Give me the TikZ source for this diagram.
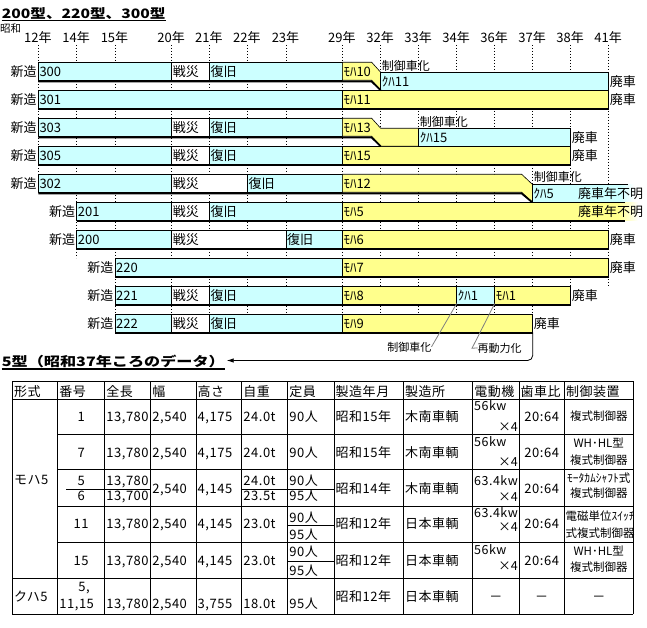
\documentclass[tikz,border=0pt]{standalone}
\usepackage{fontspec}
\setmainfont{Noto Sans CJK JP}
\newfontfamily\tblfont[LetterSpace=4]{Noto Sans CJK JP}
\newfontfamily\fwfont[RawFeature=+fwid]{Noto Sans CJK JP}
\usepackage{graphicx}
\usepackage{tikz}
\usetikzlibrary{positioning,arrows.meta,calc}
\definecolor{cbar}{RGB}{204,255,255}
\definecolor{ybar}{RGB}{255,255,140}
\definecolor{callgray}{RGB}{128,128,128}
\tikzset{
seg/.style={
draw,
line width=0.6pt
},
shadow/.style={
line width=1.8pt
},
tick/.style={
line width=0.9pt,
dash pattern=on 0.9pt off 2.1pt
},
lbl/.style={
anchor=base west,
inner sep=0pt,
font=\fontsize{13}{15}\selectfont
},
yr/.style={
anchor=base west,
inner sep=0pt,
font=\fontsize{13}{15}\selectfont
},
note/.style={
inner sep=0pt,
font=\fontsize{11}{13}\selectfont
},
ttl/.style={
anchor=base west,
inner sep=0pt,
font=\bfseries\fontsize{13}{15}\selectfont
},
cell/.style={
anchor=base west,
inner sep=0pt,
font=\tblfont\fontsize{13}{15}\selectfont
},
ccell/.style={
cell,
anchor=base
},
mcell/.style={
cell,
font=\tblfont\fontsize{12.5}{14}\selectfont
},
ctl/.style={
anchor=base,
inner sep=0pt,
font=\fontsize{11.5}{13}\selectfont
},
callout/.style={
draw=callgray,
line width=0.8pt
},
arrow/.style={
-{Latex[length=7pt,width=4.5pt]},
line width=0.8pt
},
grid/.style={
line width=0.8pt
}
}

\begin{document}
\begin{tikzpicture}[x=1pt,y=-1pt]
\useasboundingbox (0,0) rectangle (647,628);

% titles
\node[ttl](t1) at (1.7,18.3){\scalebox{1.2}[1]{200型、220型、300型}};
\draw[line width=1.4pt] ($(t1.base west)+(0,2)$) -- ($(t1.base east)+(0,2)$);
\node[anchor=base west,inner sep=0pt,font=\fontsize{10.5}{12}\selectfont](sw) at (0,33){昭和};

% years
\foreach \yr/\xx/\yend [count=\k] in {12/38.3/193,14/76.7/258,15/115/314,20/171.7/314,21/209.3/314,22/247.3/314,23/286/314,29/342.3/314,32/380.7/314,33/418.7/314,34/456.7/314,36/494.7/314,37/532.7/314,38/570.7/286,41/608.7/286}{
\draw[tick](\xx,45)--(\xx,\yend);
\node[yr](yr\k) at (\xx,43){\makebox[0pt][r]{\yr}年};
}

% bars
\foreach \rw/\xa/\xb/\col/\txt [count=\k] in {
0/38.3/171.7/cbar/300,0/171.7/209.3/white/戦災,0/209.3/342.3/cbar/復旧,
1/38.3/342.3/cbar/301,1/342.3/608.7/ybar/ﾓﾊ11,
2/38.3/171.7/cbar/303,2/171.7/209.3/white/戦災,2/209.3/342.3/cbar/復旧,
3/38.3/171.7/cbar/305,3/171.7/209.3/white/戦災,3/209.3/342.3/cbar/復旧,3/342.3/570.7/ybar/ﾓﾊ15,
4/38.3/171.7/cbar/302,4/171.7/247.3/white/戦災,4/247.3/342.3/cbar/復旧,
5/76.7/171.7/cbar/201,5/171.7/209.3/white/戦災,5/209.3/342.3/cbar/復旧,
6/76.7/171.7/cbar/200,6/171.7/286/white/戦災,6/286/342.3/cbar/復旧,6/342.3/608.7/ybar/ﾓﾊ6,
7/115/342.3/cbar/220,7/342.3/608.7/ybar/ﾓﾊ7,
8/115/171.7/cbar/221,8/171.7/209.3/white/戦災,8/209.3/342.3/cbar/復旧,8/342.3/456.7/ybar/ﾓﾊ8,8/456.7/494.7/cbar/ｸﾊ1,8/494.7/570.7/ybar/ﾓﾊ1,
9/115/171.7/cbar/222,9/171.7/209.3/white/戦災,9/209.3/342.3/cbar/復旧,9/342.3/532.7/ybar/ﾓﾊ9}{
\draw[seg,fill=\col](\xa,{62.3+28*\rw}) rectangle (\xb,{80.3+28*\rw});
\node[lbl](s\k) at (\xa+1,{76.1+28*\rw}){\txt};
}

% control car conversions
\draw[seg,fill=ybar](342.3,62.3)--(371.7,62.3)--(380.7,72.3)--(380.7,90.3)--(371.7,80.3)--(342.3,80.3)--cycle;
\node[lbl](m10) at (343.3,76.1){ﾓﾊ10};
\draw[seg,fill=cbar](380.7,72.3) rectangle (608.7,90.3);
\node[lbl](k11) at (381.7,86.1){ｸﾊ11};
\draw[seg,fill=ybar](342.3,118.3)--(371.7,118.3)--(380.7,128.3)--(418.7,128.3)--(418.7,146.3)--(380.7,146.3)--(371.7,136.3)--(342.3,136.3)--cycle;
\node[lbl](m13) at (343.3,132.1){ﾓﾊ13};
\draw[seg,fill=cbar](418.7,128.3) rectangle (570.7,146.3);
\node[lbl](k15) at (419.7,142.1){ｸﾊ15};
\draw[seg,fill=ybar](342.3,174.3)--(521.7,174.3)--(532.3,184.3)--(532.3,202.3)--(521.7,192.3)--(342.3,192.3)--cycle;
\node[lbl](m12) at (343.3,188.1){ﾓﾊ12};
% fading ends
\path[fill=cbar](532.3,184.3) rectangle (620,202.3);
\path[fill=ybar](342.3,202.3) rectangle (618,220.3);
\shade[left color=cbar,right color=white](620,184.3) rectangle (634,202.3);
\shade[left color=ybar,right color=white](618,202.3) rectangle (638,220.3);
\draw[seg](628,184.3)--(532.3,184.3)--(532.3,202.3);
\draw[seg](625,202.3)-|(342.3,220.3)--(625,220.3);
\node[lbl](k5) at (533.3,198.1){ｸﾊ5};
\node[lbl](m5) at (343.3,216.1){ﾓﾊ5};

% shadows
\draw[shadow](38.3,81.5)--(371.7,81.5)--(380.7,90.3);
\draw[shadow](38.3,137.5)--(371.7,137.5)--(380.7,146.3);
\draw[shadow](38.3,193.5)--(521.7,193.5)--(532.3,202.3);
\foreach \rw/\xa/\xb in {1/38.3/608.7,3/38.3/570.7,5/76.7/625,6/76.7/608.7,7/115/608.7,8/115/570.7,9/115/532.7}
\draw[shadow](\xa,{81.5+28*\rw})--(\xb,{81.5+28*\rw});

% side labels
\foreach \rw/\xx [count=\k] in {0/38.3,1/38.3,2/38.3,3/38.3,4/38.3,5/76.7,6/76.7,7/115,8/115,9/115}
\node[lbl,anchor=base east](n\k) at (\xx-1.5,{76.1+28*\rw}){新造};
\foreach \xx/\yy [count=\k] in {608.7/86.1,608.7/104.1,570.7/142.1,570.7/160.1,608.7/244.1,608.7/272.1,570.7/300.1,532.7/328.1}
\node[lbl](p\k) at (\xx+1,\yy){廃車};
\node[lbl](u1) at (578,198.1){廃車年不明};
\node[lbl](u2) at (578,216.1){廃車年不明};
\foreach \xx/\yy [count=\k] in {381.7/70.5,419.7/127,533.7/182}
\node[lbl,font=\fontsize{12}{14}\selectfont](c\k) at (\xx,\yy){制御車化};

% callouts
\coordinate(kuha1) at (456.7,303.5);
\coordinate(moha1) at (494.7,303.5);
\coordinate(rbend) at (472,348.3);
\node[note,anchor=base east](cb) at (431.5,351){制御車化};
\node[note,anchor=base west](rd) at (477.5,352){再動力化};
\draw[callout](cb.east)--(kuha1);
\draw[callout](rd.west)--(rbend)--(moha1);

% 5 type
\node[ttl](t5) at (1.7,366){\scalebox{1.24}[1]{5型（昭和37年ころのデータ）}};
\draw[line width=1.4pt] ($(t5.base west)+(0,3)$) -- ($(t5.base east)+(0,3)$);
\coordinate(e222) at (532.7,332.3);
\coordinate(tip) at (226.7,360.5);
\draw[arrow,rounded corners=5pt](e222)|-(tip);

% table grid
\foreach \xx in {12.3,57.7,104.7,150.7,196,241.7,287.7,334,403.3,472.7,519,564.3,633.3}
\draw[grid](\xx,381)--(\xx,614);
\foreach \yy in {381,399.3,578,614}
\draw[grid](12.3,\yy)--(633.3,\yy);
\foreach \yy in {434.3,469.3,506.5,542}
\draw[grid](57.7,\yy)--(633.3,\yy);
\foreach \xa/\xb/\yy in {66/104.7/489,104.7/150.7/489,241.7/287.7/489,287.7/334/489,287.7/334/525.5,287.7/334/561.5}
\draw[grid](\xa,\yy)--(\xb,\yy);

% table text
\foreach \xx/\txt [count=\k] in {12.3/形式,57.7/番号,104.7/全長,150.7/幅,196/高さ,241.7/自重,287.7/定員,334/製造年月,403.3/製造所,472.7/電動機,519/歯車比,564.3/制御装置}
\node[cell](h\k) at (\xx+1.5,396){\txt};
\foreach \xx/\yy/\txt [count=\k] in {
12.3/484.5/モハ5,12.3/601/クハ5,
104.7/421.5/{13,780},150.7/421.5/{2,540},196/421.5/{4,175},241.7/421.5/24.0t,287.7/421.5/90人,334/421.5/昭和15年,403.3/421.5/木南車輌,
104.7/457/{13,780},150.7/457/{2,540},196/457/{4,175},241.7/457/24.0t,287.7/457/90人,334/457/昭和15年,403.3/457/木南車輌,
104.7/485/{13,780},241.7/485/24.0t,287.7/485/90人,
104.7/500.5/{13,700},241.7/500.5/23.5t,287.7/500.5/95人,
150.7/493/{2,540},196/493/{4,145},334/493/昭和14年,403.3/493/木南車輌,
104.7/528.3/{13,780},150.7/528.3/{2,540},196/528.3/{4,145},241.7/528.3/23.0t,287.7/522.5/90人,287.7/539.5/95人,334/528.3/昭和12年,403.3/528.3/日本車輌,
104.7/565/{13,780},150.7/565/{2,540},196/565/{4,145},241.7/565/23.0t,287.7/556.5/90人,287.7/575.5/95人,334/565/昭和12年,403.3/565/日本車輌,
57.7/608/{11,15},104.7/608/{13,780},150.7/608/{2,540},196/608/{3,755},241.7/608/18.0t,287.7/608/95人,334/601/昭和12年,403.3/601/日本車輌}
\node[cell](v\k) at (\xx+1.5,\yy){\txt};
\foreach \xx/\yy/\txt [count=\k] in {
81.2/421.5/1,81.2/457/7,81.2/485/5,81.2/500.5/6,81.2/528.3/11,81.2/565/15,84/591.5/{5,},
541.7/421.5/20:64,541.7/457/20:64,541.7/493/20:64,541.7/528.3/20:64,541.7/565/20:64,
495.8/601/－,541.7/601/－,598.8/601/－}
\node[ccell](w\k) at (\xx,\yy){\txt};
\foreach \yy/\txt [count=\k] in {410/56kw,446.5/56kw,485/63.4kw,517.5/63.4kw,554/56kw}
\node[mcell](kw\k) at (474,\yy){\txt};
\foreach \yy [count=\k] in {431.5,466.5,501,531.5,570}
\node[mcell,anchor=base east](x\k) at (518,\yy){{\fwfont ×}4};
\foreach \yy/\txt [count=\k] in {420.5/複式制御器,447.3/WH･HL型,464/複式制御器,482/ﾓｰﾀｶﾑｼｬﾌﾄ式,497.5/複式制御器,555/WH･HL型,571/複式制御器}
\node[ctl](g\k) at (598.8,\yy){\txt};
\node[ctl,anchor=base west](g8) at (565.3,520){電磁単位ｽｲｯﾁ};
\node[ctl,anchor=base west](g9) at (565.3,537){式複式制御器};
\end{tikzpicture}
\end{document}
